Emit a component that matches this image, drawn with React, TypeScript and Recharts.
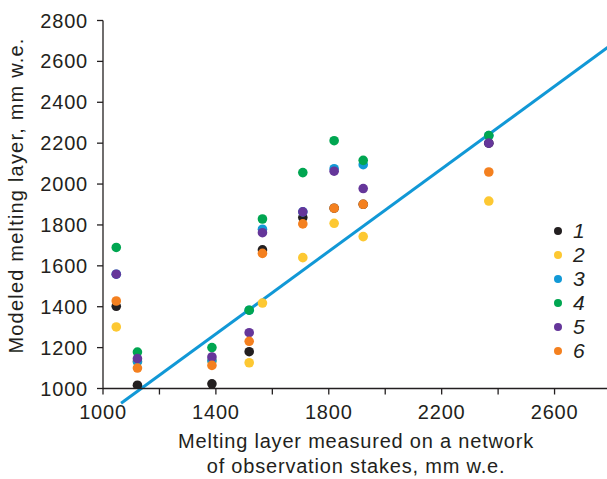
import React from 'react';
import { ScatterChart, Scatter, XAxis, YAxis, ReferenceLine, Legend, Label } from 'recharts';

// Measured melting layer (x positions of stake groups), mm w.e.
const xMeasured = [1047, 1122, 1386, 1518, 1565, 1708, 1819, 1922, 2367];

// Modeled melting layer for each variant, mm w.e.
const series1 = [1402, 1016, 1023, 1180, 1678, 1836, 1882, 1901, 2200];
const series2 = [1301, 1131, 1136, 1126, 1418, 1640, 1808, 1743, 1917];
const series3 = [1559, 1131, 1136, 1383, 1779, 1864, 2075, 2095, 2237];
const series4 = [1690, 1178, 1200, 1383, 1829, 2056, 2212, 2116, 2237];
const series5 = [1559, 1146, 1154, 1273, 1762, 1864, 2063, 1978, 2200];
const series6 = [1428, 1100, 1113, 1231, 1661, 1805, 1882, 1901, 2059];

const seriesNames = ['1', '2', '3', '4', '5', '6'];
const seriesColors = ['#231f20', '#fdc832', '#1299d6', '#00a651', '#65369a', '#f4801f'];
const seriesValues = [series1, series2, series3, series4, series5, series6];

// Fitted line endpoints
const fitX = [1064, 2800];
const fitY = [928, 2680];

const xTicks = [1000, 1200, 1400, 1600, 1800, 2000, 2200, 2400, 2600];
const xTickLabels = ['1000', '', '1400', '', '1800', '', '2200', '', '2600'];
const yTicks = [1000, 1200, 1400, 1600, 1800, 2000, 2200, 2400, 2600, 2800];

const FONT = '"Liberation Sans", Arial, Helvetica, sans-serif';
const AXIS = '#231f20';
const LS = 0.8;

const Y_AXIS_WIDTH = 103;
const MARGIN_TOP = 20.5;
const MARGIN_BOTTOM = 60.5;
const X_AXIS_HEIGHT = 30;
const CHART_H = 479;
const PLOT_BOTTOM = CHART_H - MARGIN_BOTTOM - X_AXIS_HEIGHT;
const TICK_LEN = 6;

const makeDot = (color: string) => (props: any) => {
  if (props.cx == null || props.cy == null) return <g />;
  return <circle cx={props.cx} cy={props.cy} r={4.8} fill={color} />;
};

const XTick = (props: any) => {
  const { payload } = props;
  const cx = payload.coordinate;
  const idx = xTicks.indexOf(payload.value);
  const label = idx >= 0 ? xTickLabels[idx] : '';
  return (
    <g>
      <line x1={cx} x2={cx} y1={PLOT_BOTTOM} y2={PLOT_BOTTOM + TICK_LEN} stroke={AXIS} strokeWidth={1.3} />
      <text x={cx} y={PLOT_BOTTOM + 23} textAnchor="middle" dominantBaseline="central" fill={AXIS} fontSize={20} letterSpacing={LS} fontFamily={FONT}>
        {label}
      </text>
    </g>
  );
};

const YTick = (props: any) => {
  const { payload } = props;
  const cy = payload.coordinate;
  return (
    <g>
      <line x1={Y_AXIS_WIDTH - TICK_LEN} x2={Y_AXIS_WIDTH} y1={cy} y2={cy} stroke={AXIS} strokeWidth={1.3} />
      <text x={Y_AXIS_WIDTH - 15} y={cy} textAnchor="end" dominantBaseline="central" fill={AXIS} fontSize={20} letterSpacing={LS} fontFamily={FONT}>
        {String(payload.value)}
      </text>
    </g>
  );
};

const renderYLabel = (props: any) => {
  const vb = props.viewBox || {};
  const cy = (vb.y ?? 20) + (vb.height ?? 368) / 2 - 9;
  const cx = 16;
  return (
    <text
      x={cx}
      y={cy}
      transform={`rotate(-90, ${cx}, ${cy})`}
      textAnchor="middle"
      dominantBaseline="central"
      fill={AXIS}
      fontSize={20}
      letterSpacing={1.2}
      fontFamily={FONT}
    >
      Modeled melting layer, mm w.e.
    </text>
  );
};

const renderXLabel = (props: any) => {
  const vb = props.viewBox || {};
  const cx = (vb.x ?? 103) + (vb.width ?? 508) / 2 - 1;
  const y0 = PLOT_BOTTOM;
  return (
    <g>
      <text x={cx} y={y0 + 52.5} textAnchor="middle" dominantBaseline="central" fill={AXIS} fontSize={20} letterSpacing={LS} fontFamily={FONT}>
        Melting layer measured on a network
      </text>
      <text x={cx} y={y0 + 77.5} textAnchor="middle" dominantBaseline="central" fill={AXIS} fontSize={20} letterSpacing={LS} fontFamily={FONT}>
        of observation stakes, mm w.e.
      </text>
    </g>
  );
};

const renderLegend = () => (
  <div style={{ fontFamily: FONT }}>
    {seriesNames.map((n, i) => (
      <div key={n} style={{ height: 24, display: 'flex', alignItems: 'center' }}>
        <svg width={16} height={24} style={{ display: 'block' }}>
          <circle cx={8} cy={12} r={4} fill={seriesColors[i]} />
        </svg>
        <span style={{ marginLeft: 7, fontStyle: 'italic', fontSize: 21, color: AXIS, lineHeight: '24px' }}>{n}</span>
      </div>
    ))}
  </div>
);

export default function App() {
  return (
    <div style={{ position: 'absolute', left: 0, top: 0, width: 607, height: 479, background: '#fff' }}>
      <ScatterChart
        width={607}
        height={CHART_H}
        margin={{ top: MARGIN_TOP, right: -4, bottom: MARGIN_BOTTOM, left: 0 }}
        style={{ fontFamily: FONT }}
      >
        <XAxis
          type="number"
          dataKey="x"
          domain={[1000, 2800]}
          allowDataOverflow
          ticks={xTicks}
          height={X_AXIS_HEIGHT}
          tickLine={false}
          axisLine={{ stroke: AXIS, strokeWidth: 1.3 }}
          tick={XTick}
          interval={0}
        >
          <Label content={renderXLabel} />
        </XAxis>
        <YAxis
          type="number"
          dataKey="y"
          domain={[1000, 2800]}
          allowDataOverflow
          ticks={yTicks}
          width={Y_AXIS_WIDTH}
          tickLine={false}
          axisLine={{ stroke: AXIS, strokeWidth: 1.3 }}
          tick={YTick}
          interval={0}
        >
          <Label content={renderYLabel} />
        </YAxis>
        <ReferenceLine
          segment={[
            { x: fitX[0], y: fitY[0] },
            { x: fitX[1], y: fitY[1] },
          ]}
          stroke="#1198d6"
          strokeWidth={3}
          ifOverflow="visible"
        />
        {seriesValues.map((vals, i) => (
          <Scatter
            key={seriesNames[i]}
            name={seriesNames[i]}
            data={xMeasured.map((x, j) => ({ x, y: vals[j] }))}
            fill={seriesColors[i]}
            shape={makeDot(seriesColors[i])}
            isAnimationActive={false}
          />
        ))}
        <Legend
          layout="horizontal"
          verticalAlign="middle"
          align="center"
          content={renderLegend}
          wrapperStyle={{ position: 'absolute', left: 550, top: 219, width: 57, height: 150 }}
        />
      </ScatterChart>
    </div>
  );
}
